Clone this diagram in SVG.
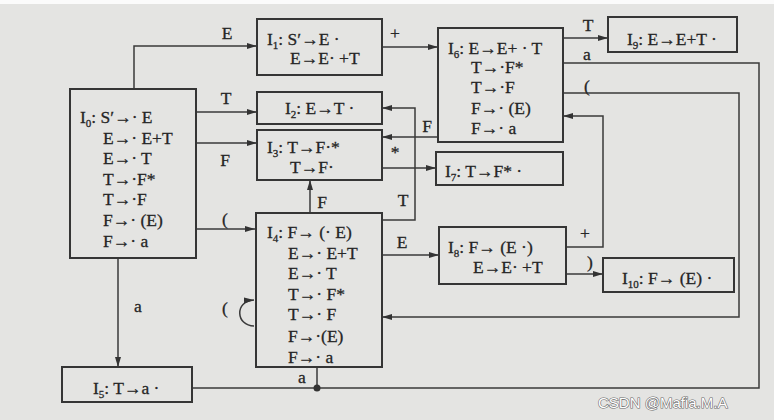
<svg xmlns="http://www.w3.org/2000/svg" width="774" height="420" viewBox="0 0 774 420">
<defs>
<marker id="ah" markerWidth="11" markerHeight="8" refX="10" refY="4" orient="auto" markerUnits="userSpaceOnUse">
<path d="M0,1 L10,4 L0,7 Z" fill="#333"/>
</marker>
<style>
.box{fill:none;stroke:#353535;stroke-width:2}
.t{font-family:"Liberation Serif","Times New Roman",serif;font-size:17.5px;fill:#262626;stroke:#262626;stroke-width:0.3}
.sub{font-size:11px}
.c{fill:none;stroke:#3a3a3a;stroke-width:1.5}
.lb{font-family:"Liberation Serif","Times New Roman",serif;font-size:17.5px;fill:#262626;stroke:#262626;stroke-width:0.3;text-anchor:middle}
.wm{font-family:"Liberation Sans","Noto Sans",sans-serif;font-size:15px;fill:#ffffff;stroke:#6a6a6a;stroke-width:1.2;paint-order:stroke}
</style>
</defs>
<rect x="0" y="0" width="774" height="420" fill="#e4e4e2"/>
<rect x="0" y="0" width="774" height="4" fill="#fbfbfb"/>

<g id="connectors">
<path class="c" d="M134,89 V46 H257" marker-end="url(#ah)"/>
<path class="c" d="M196,112 H257" marker-end="url(#ah)"/>
<path class="c" d="M196,143 H257" marker-end="url(#ah)"/>
<path class="c" d="M196,229 H255" marker-end="url(#ah)"/>
<path class="c" d="M118,258 V367" marker-end="url(#ah)"/>
<path class="c" d="M310,213 V180" marker-end="url(#ah)"/>
<path class="c" d="M382,220 H415 V108 H382" marker-end="url(#ah)"/>
<path class="c" d="M438,137 H382" marker-end="url(#ah)"/>
<path class="c" d="M382,168 H436" marker-end="url(#ah)"/>
<path class="c" d="M382,47 H438" marker-end="url(#ah)"/>
<path class="c" d="M563,38 H608" marker-end="url(#ah)"/>
<path class="c" d="M563,63 H759 V388 H192"/>
<path class="c" d="M317,367 V388"/>
<circle cx="317" cy="388" r="3.5" fill="#333"/>
<path class="c" d="M563,93 H739 V317 H382" marker-end="url(#ah)"/>
<path class="c" d="M566,247 H603 V116 H563" marker-end="url(#ah)"/>
<path class="c" d="M566,274 H603" marker-end="url(#ah)"/>
<path class="c" d="M382,255 H439" marker-end="url(#ah)"/>
<path class="c" d="M254,326 C236,326 234,301 254,300" marker-end="url(#ah)"/>
<text class="lb" x="227" y="39">E</text>
<text class="lb" x="226" y="104">T</text>
<text class="lb" x="225" y="166">F</text>
<text class="lb" x="225" y="225">(</text>
<text class="lb" x="138" y="312">a</text>
<text class="lb" x="322" y="208">F</text>
<text class="lb" x="403" y="206">T</text>
<text class="lb" x="395" y="39">+</text>
<text class="lb" x="427" y="132">F</text>
<text class="lb" x="395" y="158">*</text>
<text class="lb" x="588" y="31">T</text>
<text class="lb" x="587" y="60">a</text>
<text class="lb" x="587" y="92">(</text>
<text class="lb" x="402" y="248">E</text>
<text class="lb" x="585" y="239">+</text>
<text class="lb" x="590" y="268">)</text>
<text class="lb" x="225" y="314">(</text>
<text class="lb" x="302" y="383">a</text>
</g>

<g id="I0">
<rect class="box" x="70" y="89" width="126" height="169"/>
<text class="t" x="80" y="123">I<tspan class="sub" dy="4">0</tspan><tspan dy="-4">: S′→· E</tspan></text>
<text class="t" x="103" y="144">E→· E+T</text>
<text class="t" x="103" y="164">E→· T</text>
<text class="t" x="103" y="185">T→·F*</text>
<text class="t" x="103" y="205">T→·F</text>
<text class="t" x="103" y="226">F→· (E)</text>
<text class="t" x="103" y="247">F→· a</text>
</g>

<g id="I1">
<rect class="box" x="257" y="19" width="125" height="56"/>
<text class="t" x="267" y="45">I<tspan class="sub" dy="4">1</tspan><tspan dy="-4">: S′→E ·</tspan></text>
<text class="t" x="290" y="64">E→E· +T</text>
</g>

<g id="I2">
<rect class="box" x="257" y="92" width="125" height="32"/>
<text class="t" x="285" y="114">I<tspan class="sub" dy="4">2</tspan><tspan dy="-4">: E→T ·</tspan></text>
</g>

<g id="I3">
<rect class="box" x="257" y="130" width="125" height="50"/>
<text class="t" x="267" y="153">I<tspan class="sub" dy="4">3</tspan><tspan dy="-4">: T→F·*</tspan></text>
<text class="t" x="290" y="173">T→F·</text>
</g>

<g id="I4">
<rect class="box" x="256" y="213" width="126" height="154"/>
<text class="t" x="267" y="238">I<tspan class="sub" dy="4">4</tspan><tspan dy="-4">: F→ (· E)</tspan></text>
<text class="t" x="288" y="259">E→· E+T</text>
<text class="t" x="288" y="279">E→· T</text>
<text class="t" x="288" y="300">T→· F*</text>
<text class="t" x="288" y="320">T→· F</text>
<text class="t" x="288" y="342">F→·(E)</text>
<text class="t" x="288" y="363">F→· a</text>
</g>

<g id="I5">
<rect class="box" x="62" y="367" width="130" height="35"/>
<text class="t" x="93" y="394">I<tspan class="sub" dy="4">5</tspan><tspan dy="-4">: T→a ·</tspan></text>
</g>

<g id="I6">
<rect class="box" x="438" y="28" width="125" height="114"/>
<text class="t" x="448" y="54">I<tspan class="sub" dy="4">6</tspan><tspan dy="-4">: E→E+ · T</tspan></text>
<text class="t" x="471" y="73">T→·F*</text>
<text class="t" x="471" y="93">T→·F</text>
<text class="t" x="471" y="114">F→· (E)</text>
<text class="t" x="471" y="134">F→· a</text>
</g>

<g id="I7">
<rect class="box" x="436" y="152" width="127" height="33"/>
<text class="t" x="445" y="177">I<tspan class="sub" dy="4">7</tspan><tspan dy="-4">: T→F* ·</tspan></text>
</g>

<g id="I8">
<rect class="box" x="439" y="227" width="127" height="57"/>
<text class="t" x="448" y="253">I<tspan class="sub" dy="4">8</tspan><tspan dy="-4">: F→ (E ·)</tspan></text>
<text class="t" x="473" y="273">E→E· +T</text>
</g>

<g id="I9">
<rect class="box" x="608" y="17" width="129" height="35"/>
<text class="t" x="627" y="45">I<tspan class="sub" dy="4">9</tspan><tspan dy="-4">: E→E+T ·</tspan></text>
</g>

<g id="I10">
<rect class="box" x="603" y="258" width="131" height="34"/>
<text class="t" x="622" y="284">I<tspan class="sub" dy="4">10</tspan><tspan dy="-4">: F→ (E) ·</tspan></text>
</g>

<text class="wm" x="598" y="408">CSDN @Mafia.M.A</text>
</svg>
